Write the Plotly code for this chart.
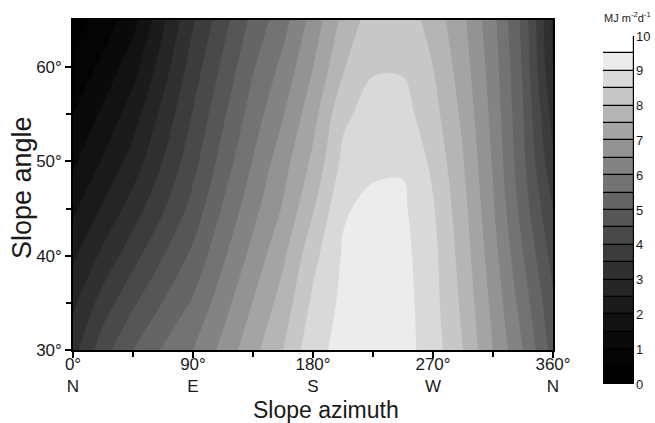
import plotly.graph_objects as go

# ---- data ----
azimuth = [0, 22.5, 45, 67.5, 90, 112.5, 135, 157.5, 180, 202.5, 225, 247.5, 270, 292.5, 315, 337.5, 360]
slope = [30, 35, 40, 45, 50, 55, 60, 65]

rad_30 = [3.3, 4.3, 5.0, 5.55, 6.0, 6.65, 7.35, 8.0, 8.85, 9.15, 9.3, 9.2, 8.75, 8.0, 7.0, 6.0, 4.8]
rad_35 = [2.9, 3.72, 4.42, 5.02, 5.57, 6.29, 7.02, 7.71, 8.6, 9.12, 9.25, 9.2, 8.68, 7.89, 6.86, 5.76, 4.6]
rad_40 = [2.4, 3.13, 3.82, 4.48, 5.12, 5.92, 6.67, 7.41, 8.35, 9.05, 9.2, 9.15, 8.65, 7.78, 6.71, 5.52, 4.3]
rad_45 = [1.9, 2.56, 3.24, 3.95, 4.68, 5.55, 6.34, 7.05, 7.95, 8.95, 9.12, 9.08, 8.55, 7.67, 6.56, 5.28, 4.0]
rad_50 = [1.4, 2.05, 2.72, 3.51, 4.33, 5.21, 6.03, 6.8, 7.61, 8.62, 8.9, 8.95, 8.39, 7.53, 6.45, 5.12, 3.6]
rad_55 = [1.0, 1.6, 2.27, 3.15, 4.04, 4.91, 5.74, 6.47, 7.32, 8.4, 8.7, 8.69, 8.19, 7.39, 6.35, 5.03, 3.3]
rad_60 = [0.6, 1.14, 1.8, 2.77, 3.74, 4.61, 5.45, 6.14, 7.0, 7.95, 8.45, 8.45, 8.0, 7.24, 6.25, 4.94, 3.0]
rad_65 = [0.3, 0.68, 1.33, 2.4, 3.45, 4.3, 5.15, 5.8, 6.7, 7.65, 8.25, 8.3, 7.8, 7.1, 6.15, 4.85, 2.9]

x_tickvals = [0, 90, 180, 270, 360]
x_ticktext = ["0°<br>N", "90°<br>E", "180°<br>S", "270°<br>W", "360°<br>N"]
y_tickvals = [30, 40, 50, 60]
y_ticktext = ["30°", "40°", "50°", "60°"]

band_lower = [0, 0.5, 1, 1.5, 2, 2.5, 3, 3.5, 4, 4.5, 5, 5.5, 6, 6.5, 7, 7.5, 8, 8.5, 9, 9.5]
cbar_ticks = [0, 1, 2, 3, 4, 5, 6, 7, 8, 9, 10]

# ---- styling ----
n_bands = len(band_lower)
def gray(i):
    g = int(round(255 * (i / (n_bands - 1)) ** 1.45))
    return f"rgb({g},{g},{g})"

band_colors = [gray(i) for i in range(n_bands)]
colorscale = []
for i, c in enumerate(band_colors):
    colorscale.append([i / n_bands, c])
    colorscale.append([(i + 1) / n_bands, c])

z = [rad_30, rad_35, rad_40, rad_45, rad_50, rad_55, rad_60, rad_65]

FONT = "Liberation Sans, Arial, sans-serif"
TXT = "#1a1a1a"
W, H = 655, 423
ML, MR, MT, MB = 73, 15, 20, 38
PW, PH = W - ML - MR, H - MT - MB

def px_x(px):
    return (px - ML) / PW

def px_y(py):
    return (H - MB - py) / PH

fig = go.Figure()
fig.add_trace(go.Contour(
    x=azimuth, y=slope, z=z,
    autocontour=False,
    contours=dict(start=0, end=10, size=0.5, coloring="fill", showlines=False),
    line=dict(width=0, smoothing=1),
    colorscale=colorscale, zmin=0, zmax=10, showscale=False,
    hoverinfo="skip",
))

fig.add_trace(go.Bar(
    x=[0] * n_bands, y=[0.5] * n_bands, base=band_lower, width=1,
    marker=dict(color=band_colors, line=dict(color="black", width=1.2)),
    xaxis="x2", yaxis="y2", showlegend=False, hoverinfo="skip",
))

tickfont = dict(family=FONT, size=17, color=TXT)
fig.update_layout(
    template="none",
    width=W, height=H,
    margin=dict(l=ML, r=MR, t=MT, b=MB, autoexpand=False),
    paper_bgcolor="white", plot_bgcolor="white",
    font=dict(family=FONT, color=TXT),
    showlegend=False,
    xaxis=dict(
        domain=[0, px_x(553)], range=[0, 360], anchor="y", automargin=False,
        tickvals=x_tickvals, ticktext=x_ticktext, tickfont=tickfont,
        ticks="outside", ticklen=6, tickcolor="black", tickwidth=1.5,
        ticklabelstandoff=-8,
        minor=dict(tickvals=[45, 135, 225, 315], ticks="outside", ticklen=5, tickcolor="black", tickwidth=1.5),
        showline=True, linecolor="black", linewidth=1.5, mirror=True,
        showgrid=False, zeroline=False,
    ),
    yaxis=dict(
        domain=[px_y(350), 1], range=[30, 65], anchor="x", automargin=False,
        tickvals=y_tickvals, ticktext=y_ticktext, tickfont=tickfont,
        ticks="outside", ticklen=6, tickcolor="black", tickwidth=1.5,
        minor=dict(tickvals=[35, 45, 55], ticks="outside", ticklen=5, tickcolor="black", tickwidth=1.5),
        showline=True, linecolor="black", linewidth=1.5, mirror=True,
        showgrid=False, zeroline=False,
    ),
    xaxis2=dict(domain=[px_x(603), px_x(634)], range=[-0.5, 0.5], anchor="y2",
                visible=False, automargin=False),
    yaxis2=dict(domain=[px_y(384), px_y(36)], range=[0, 10], anchor="x2", side="right",
                tickvals=cbar_ticks, ticks="", showgrid=False, zeroline=False,
                showline=False, automargin=False, ticklabelstandoff=1,
                tickfont=dict(family=FONT, size=13, color=TXT)),
    bargap=0,
    annotations=[
        dict(text="Slope azimuth", x=px_x(326), y=px_y(410), xref="paper", yref="paper",
             showarrow=False, font=dict(family=FONT, size=23, color=TXT),
             xanchor="center", yanchor="middle"),
        dict(text="Slope angle", x=px_x(22), y=px_y(188), xref="paper", yref="paper",
             showarrow=False, textangle=-90, font=dict(family=FONT, size=27, color=TXT),
             xanchor="center", yanchor="middle"),
        dict(text="MJ m<sup>-2</sup>d<sup>-1</sup>", x=px_x(627), y=px_y(17), xref="paper", yref="paper",
             showarrow=False, font=dict(family=FONT, size=11, color=TXT),
             xanchor="center", yanchor="middle"),
    ],
)

fig.write_html("out.html", config={"displayModeBar": False},
               post_script="document.body.style.margin='0';document.body.style.padding='0';")
